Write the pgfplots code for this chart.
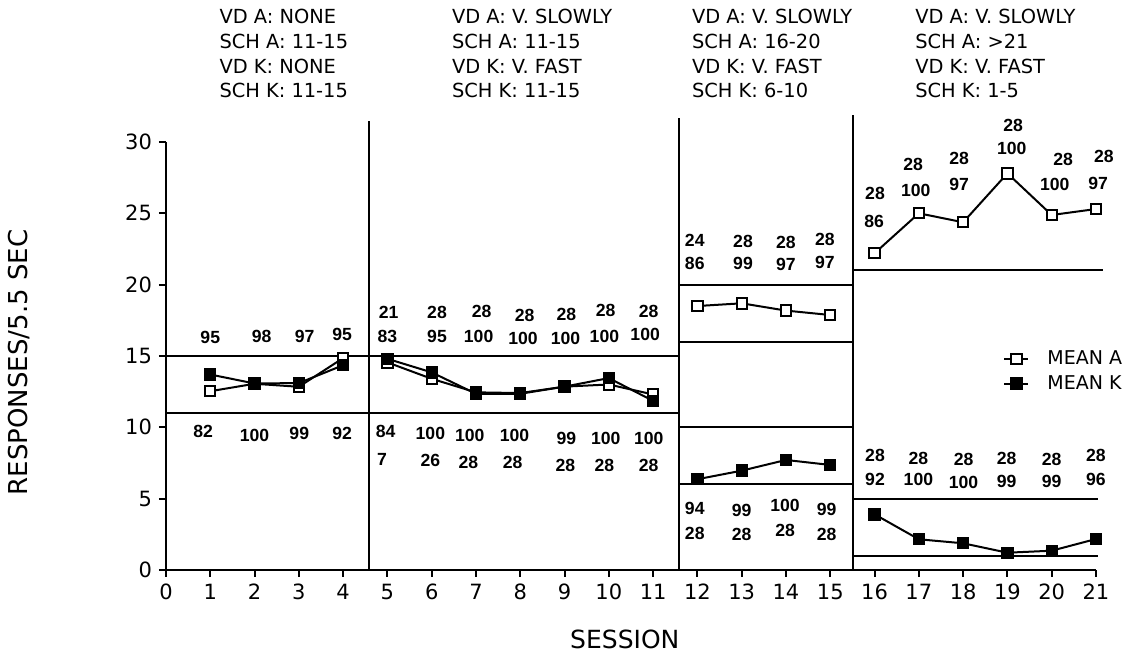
\documentclass[border=0pt]{standalone}
\usepackage{fontspec}
\setmainfont{DejaVu Sans}
\newfontfamily\annfont{Liberation Sans}
\usepackage{pgfplots}
\pgfplotsset{compat=1.18}
\newcommand{\an}[3]{\node[font=\annfont\bfseries\fontsize{8.8}{9}\selectfont, inner sep=0pt] at (axis cs:#1,#2) {#3};}
\newcommand{\hd}[3]{\node[font=\fontsize{9.7}{10}\selectfont, inner sep=0pt, anchor=west] at (axis cs:#1,#2) {#3};}
\begin{document}
\begin{tikzpicture}
\begin{axis}[
  scale only axis, width=465pt, height=214pt,
  xmin=0, xmax=21, ymin=0, ymax=30,
  axis lines*=left,
  axis line style={line width=1.1pt},
  xtick={0,...,21}, ytick={0,5,...,30},
  tick align=outside, major tick length=3.5pt,
  tick style={line width=1pt, black},
  ticklabel style={font=\fontsize{10.5}{12}\selectfont},
  /pgf/number format/assume math mode=true,
  clip=false,
  unbounded coords=jump,
  legend style={draw=none, fill=none, at={(axis cs:18.9,15.7)}, anchor=north west,
    inner sep=0pt, font=\fontsize{9.5}{11}\selectfont, row sep=0pt},
  legend cell align=left,
  legend image code/.code={\draw[#1, mark repeat=2, mark phase=2] plot coordinates {(0pt,0pt)(6pt,0pt)(12pt,0pt)};},
  /tikz/every odd column/.append style={column sep=7pt},
]
% bounding box
\path (axis cs:-3.748,39.95) rectangle (axis cs:21.926,-6.52);

% phase lines
\addplot[forget plot, no marks, line width=1.1pt] coordinates {(4.58,0)(4.58,31.5)};
\addplot[forget plot, no marks, line width=1.1pt] coordinates {(11.58,0)(11.58,31.7)};
\addplot[forget plot, no marks, line width=1.1pt] coordinates {(15.52,0)(15.52,31.9)};
% criterion lines
\addplot[forget plot, no marks, line width=1.1pt] coordinates {(0,15)(11.58,15)};
\addplot[forget plot, no marks, line width=1.1pt] coordinates {(0,11)(11.58,11)};
\addplot[forget plot, no marks, line width=1.1pt] coordinates {(11.58,20)(15.52,20)};
\addplot[forget plot, no marks, line width=1.1pt] coordinates {(11.58,16)(15.52,16)};
\addplot[forget plot, no marks, line width=1.1pt] coordinates {(11.58,10)(15.52,10)};
\addplot[forget plot, no marks, line width=1.1pt] coordinates {(11.58,6)(15.52,6)};
\addplot[forget plot, no marks, line width=1.1pt] coordinates {(15.52,21)(21.15,21)};
\addplot[forget plot, no marks, line width=1.1pt] coordinates {(15.52,5)(21.05,5)};
\addplot[forget plot, no marks, line width=1.1pt] coordinates {(15.52,1)(21.05,1)};

% data
\addplot[line width=1pt, mark=square*, mark size=2.6pt, mark options={fill=white, draw=black, line width=1pt}] coordinates {
 (1,12.53)(2,13.05)(3,12.84)(4,14.85)(4.5,nan)
 (5,14.55)(6,13.4)(7,12.45)(8,12.4)(9,12.85)(10,13.0)(11,12.3)(11.5,nan)
 (12,18.5)(13,18.69)(14,18.18)(15,17.87)(15.5,nan)
 (16,22.2)(17,25.0)(18,24.37)(19,27.8)(20,24.88)(21,25.3)};
\addlegendentry{MEAN A}
\addplot[line width=1pt, mark=square*, mark size=2.6pt, mark options={fill=black, line width=1pt}] coordinates {
 (1,13.7)(2,13.07)(3,13.1)(4,14.35)(4.5,nan)
 (5,14.8)(6,13.85)(7,12.35)(8,12.35)(9,12.85)(10,13.45)(11,11.85)(11.5,nan)
 (12,6.36)(13,6.96)(14,7.71)(15,7.36)(15.5,nan)
 (16,3.9)(17,2.15)(18,1.87)(19,1.21)(20,1.35)(21,2.17)};
\addlegendentry{MEAN K}

% headers
\hd{1.2}{38.83}{VD A: NONE}
\hd{1.2}{37.05}{SCH A: 11-15}
\hd{1.2}{35.29}{VD K: NONE}
\hd{1.2}{33.6}{SCH K: 11-15}
\hd{6.45}{38.83}{VD A: V. SLOWLY}
\hd{6.45}{37.05}{SCH A: 11-15}
\hd{6.45}{35.29}{VD K: V. FAST}
\hd{6.45}{33.6}{SCH K: 11-15}
\hd{11.87}{38.83}{VD A: V. SLOWLY}
\hd{11.87}{37.05}{SCH A: 16-20}
\hd{11.87}{35.29}{VD K: V. FAST}
\hd{11.87}{33.6}{SCH K: 6-10}
\hd{16.91}{38.83}{VD A: V. SLOWLY}
\hd{16.91}{37.05}{SCH A: >21}
\hd{16.91}{35.29}{VD K: V. FAST}
\hd{16.91}{33.6}{SCH K: 1-5}

% phase 1 annotations
\an{1.0}{16.28}{95}
\an{2.16}{16.4}{98}
\an{3.13}{16.35}{97}
\an{3.98}{16.5}{95}
\an{0.84}{9.7}{82}
\an{2.0}{9.4}{100}
\an{3.01}{9.54}{99}
\an{3.98}{9.54}{92}
% phase 2
\an{5.03}{18.07}{21}\an{5.0}{16.35}{83}
\an{6.12}{18.02}{28}\an{6.12}{16.35}{95}
\an{7.13}{18.14}{28}\an{7.06}{16.35}{100}
\an{8.1}{17.84}{28}\an{8.06}{16.2}{100}
\an{9.04}{17.9}{28}\an{9.02}{16.2}{100}
\an{9.93}{18.2}{28}\an{9.9}{16.35}{100}
\an{10.9}{18.14}{28}\an{10.82}{16.5}{100}
\an{4.96}{9.7}{84}\an{4.88}{7.75}{7}
\an{5.97}{9.54}{100}\an{5.97}{7.65}{26}
\an{6.86}{9.4}{100}\an{6.83}{7.51}{28}
\an{7.87}{9.4}{100}\an{7.83}{7.51}{28}
\an{9.04}{9.23}{99}\an{9.02}{7.35}{28}
\an{9.93}{9.23}{100}\an{9.9}{7.35}{28}
\an{10.9}{9.23}{100}\an{10.9}{7.35}{28}
% phase 3
\an{11.94}{23.13}{24}\an{11.94}{21.5}{86}
\an{13.03}{23.0}{28}\an{13.03}{21.5}{99}
\an{14.0}{22.98}{28}\an{14.0}{21.38}{97}
\an{14.88}{23.2}{28}\an{14.88}{21.55}{97}
\an{11.94}{4.32}{94}\an{11.94}{2.57}{28}
\an{13.0}{4.2}{99}\an{13.0}{2.5}{28}
\an{13.98}{4.55}{100}\an{13.98}{2.8}{28}
\an{14.92}{4.27}{99}\an{14.92}{2.5}{28}
% phase 4
\an{16.01}{26.4}{28}\an{15.99}{24.4}{86}
\an{16.87}{28.39}{28}\an{16.93}{26.63}{100}
\an{17.91}{28.86}{28}\an{17.91}{27.0}{97}
\an{19.13}{31.19}{28}\an{19.1}{29.56}{100}
\an{20.26}{28.74}{28}\an{20.07}{27.0}{100}
\an{21.18}{28.97}{28}\an{21.05}{27.1}{97}
\an{16.01}{8.06}{28}\an{16.01}{6.31}{92}
\an{16.99}{7.83}{28}\an{16.99}{6.31}{100}
\an{18.01}{7.76}{28}\an{18.01}{6.12}{100}
\an{18.98}{7.83}{28}\an{18.98}{6.19}{99}
\an{20.0}{7.76}{28}\an{20.0}{6.19}{99}
\an{21.0}{8.06}{28}\an{21.0}{6.31}{96}

% axis labels
\node[rotate=90, font=\fontsize{13}{14}\selectfont, inner sep=0pt] at (axis cs:-3.32,14.54) {RESPONSES/5.5 SEC};
\node[font=\fontsize{12.5}{14}\selectfont, inner sep=0pt] at (axis cs:10.36,-4.9) {SESSION};
\end{axis}
\end{tikzpicture}
\end{document}
